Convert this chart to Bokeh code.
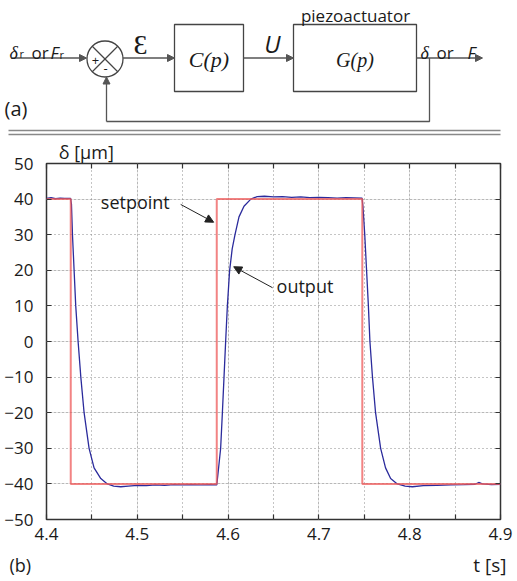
from bokeh.plotting import figure
from bokeh.models import Range1d, LinearAxis, FixedTicker, Label, Arrow, NormalHead, Grid
from bokeh.layouts import column
from bokeh.embed import file_html
from bokeh.resources import INLINE

# ---------------- data ----------------
setpoint_t = [4.40, 4.4267, 4.4267, 4.5875, 4.5875, 4.7478, 4.7478, 4.90]
setpoint_v = [40, 40, -40, -40, 40, 40, -40, -40]

output_t = [4.400, 4.405, 4.410, 4.415, 4.420, 4.4265, 4.4275, 4.4286, 4.4304, 4.4322,
            4.4348, 4.4378, 4.4414, 4.4469, 4.4524, 4.4598, 4.4670, 4.4740, 4.4818, 4.490,
            4.500, 4.510, 4.520, 4.530, 4.540, 4.550, 4.560, 4.570, 4.580, 4.5875,
            4.5885, 4.5918, 4.5937, 4.5955, 4.5973, 4.5992, 4.6017, 4.6045, 4.6076, 4.612,
            4.6175, 4.625, 4.632, 4.640, 4.650, 4.660, 4.670, 4.680, 4.690, 4.700,
            4.710, 4.720, 4.730, 4.7475, 4.7485, 4.7505, 4.7525, 4.7545, 4.7562, 4.759,
            4.7624, 4.768, 4.7734, 4.779, 4.7863, 4.795, 4.803, 4.815, 4.830, 4.845,
            4.860, 4.872, 4.876, 4.880, 4.890, 4.900]
output_v = [40.2, 40.4, 40.1, 40.3, 40.2, 40.2, 38.5, 30, 20, 10,
            0, -10, -20, -30, -35.5, -38.5, -40.0, -40.6, -40.8, -40.6,
            -40.4, -40.5, -40.3, -40.4, -40.2, -40.3, -40.2, -40.3, -40.2, -40.3,
            -38, -30, -20, -10, 0, 10, 20, 26, 30, 35,
            38, 40, 40.7, 40.8, 40.6, 40.7, 40.5, 40.6, 40.4, 40.5,
            40.4, 40.3, 40.4, 40.3, 38, 30, 20, 10, 0, -10,
            -20, -30, -35.5, -38.5, -40, -40.6, -40.8, -40.5, -40.4, -40.3,
            -40.2, -40.1, -39.6, -40.0, -40.2, -40.1]

x_tick_values = [4.4, 4.45, 4.5, 4.55, 4.6, 4.65, 4.7, 4.75, 4.8, 4.85, 4.9]
x_tick_labels = ["4.4", "", "4.5", "", "4.6", "", "4.7", "", "4.8", "", "4.9"]
y_tick_values = [-50, -40, -30, -20, -10, 0, 10, 20, 30, 40, 50]
y_tick_labels = ["\u221250", "\u221240", "\u221230", "\u221220", "\u221210", "0",
                 "10", "20", "30", "40", "50"]
y_axis_title = "\u03b4 [\u03bcm]"
x_axis_title = "t [s]"

SANS = "Open Sans"
SERIF = "Liberation Serif"
INK = "#1a1a1a"
LINE = "#555555"

W = 517
H1 = 136            # diagram: page y 0..136
H2 = 412            # plot:    page y 136..548
H3 = 581 - H1 - H2  # footer:  page y 548..581


def lab(fig, x, y, text, size, font=SANS, style="normal", align="left",
        baseline="middle", color=INK):
    fig.add_layout(Label(x=x, y=y, text=text, text_font=font,
                         text_font_size=f"{size}px", text_font_style=style,
                         text_align=align, text_baseline=baseline, text_color=color))


def arrow(fig, x0, y0, x1, y1, col=LINE, size=7, lw=1.3):
    fig.add_layout(Arrow(end=NormalHead(size=size, fill_color=col, line_color=col, line_width=1),
                         x_start=x0, y_start=y0, x_end=x1, y_end=y1,
                         line_color=col, line_width=lw))


def blank(h, top):
    f = figure(width=W, height=h, x_range=Range1d(0, W), y_range=Range1d(top + h, top),
               output_backend="svg", toolbar_location=None, min_border=0,
               min_border_left=0, min_border_right=0, min_border_top=0, min_border_bottom=0,
               x_axis_location=None, y_axis_location=None, frame_align=False)
    f.grid.visible = False
    f.outline_line_color = None
    return f


# ---------------- diagram (a) ----------------
d = blank(H1, 0)

yc = 57.5
cx, cy, r = 104.5, 58.5, 18
arrow(d, 11, yc, 86, yc)
d.circle(x=[cx], y=[cy], radius=r, fill_color=None, line_color="#444444", line_width=1.3)
k = r / 2 ** 0.5
d.segment(x0=[cx - k, cx - k], y0=[cy - k, cy + k], x1=[cx + k, cx + k], y1=[cy + k, cy - k],
          line_color="#444444", line_width=1.2)
lab(d, 95, 60, "+", 13, align="center")
lab(d, 105, 68, "-", 13, align="center")
arrow(d, 122.5, yc, 174, yc)
d.quad(left=[174, 293], right=[243, 416], top=[24, 24], bottom=[91, 91],
       fill_color=None, line_color="#444444", line_width=1.3)
arrow(d, 243, yc, 293, yc)
arrow(d, 416, yc, 482, yc)
d.line(x=[429, 429, 106], y=[yc, 121, 121], line_color=LINE, line_width=1.3)
arrow(d, 106, 121, 106, 76.5)
d.segment(x0=[8, 8], y0=[130, 134], x1=[500, 500], y1=[130, 134],
          line_color="#888888", line_width=1.3)

lab(d, 9, 52, "\u03b4", 18, font=SERIF, style="italic", baseline="alphabetic")
lab(d, 19, 53, "r", 11, baseline="alphabetic")
lab(d, 31, 52, "or", 17, baseline="alphabetic")
lab(d, 50, 52, "F", 17, style="italic", baseline="alphabetic")
lab(d, 59, 54, "r", 11, baseline="alphabetic")
lab(d, 140, 42, "\u0190", 28, align="center")
lab(d, 272, 43, "U", 24, style="italic", align="center")
lab(d, 208.5, 59, "C(p)", 22, font=SERIF, style="italic", align="center")
lab(d, 354.5, 59, "G(p)", 20, font=SERIF, style="italic", align="center")
lab(d, 355, 15, "piezoactuator", 17, align="center")
lab(d, 420, 52, "\u03b4", 18, font=SERIF, style="italic", baseline="alphabetic")
lab(d, 436, 52, "or", 17, baseline="alphabetic")
lab(d, 467, 52, "F", 17, style="italic", baseline="alphabetic")
lab(d, 4, 108, "(a)", 20)

# ---------------- plot (b) ----------------
p = figure(width=W, height=H2, x_range=Range1d(4.4, 4.9), y_range=Range1d(-50, 50),
           output_backend="svg", toolbar_location=None, frame_align=False,
           min_border_left=46, min_border_right=17, min_border_top=25, min_border_bottom=29,
           x_axis_location=None, y_axis_location=None)
p.outline_line_color = "#333333"
p.outline_line_width = 1.5

xt = FixedTicker(ticks=x_tick_values)
yt = FixedTicker(ticks=y_tick_values)
x_over = dict(zip(x_tick_values, x_tick_labels))
y_over = dict(zip(y_tick_values, y_tick_labels))

common = dict(axis_line_color=None, major_tick_in=5, major_tick_out=0,
              major_tick_line_color="#333333", major_tick_line_width=1.2,
              minor_tick_line_color=None)

xb = LinearAxis(ticker=xt, major_label_overrides=x_over, major_label_standoff=8,
                major_label_text_font=SANS, major_label_text_font_size="17px",
                major_label_text_color=INK, **common)
yl = LinearAxis(ticker=yt, major_label_overrides=y_over, major_label_standoff=13,
                major_label_text_font=SANS, major_label_text_font_size="17px",
                major_label_text_color=INK, **common)
xa = LinearAxis(ticker=xt, major_label_overrides={v: "" for v in x_tick_values},
                major_label_standoff=0, major_label_text_font_size="0px", **common)
yr = LinearAxis(ticker=yt, major_label_overrides={v: "" for v in y_tick_values},
                major_label_standoff=0, major_label_text_font_size="0px", **common)
# y-axis title written at the top-left, above the frame
ytitle_pos = 4.4438
yt_ax = LinearAxis(ticker=FixedTicker(ticks=[ytitle_pos]),
                   major_label_overrides={ytitle_pos: y_axis_title},
                   axis_line_color=None, major_tick_line_color=None, minor_tick_line_color=None,
                   major_tick_in=0, major_tick_out=0, major_label_standoff=0,
                   major_label_text_font=SANS, major_label_text_font_size="18px",
                   major_label_text_color=INK)
p.add_layout(xb, "below")
p.add_layout(yl, "left")
p.add_layout(xa, "above")
p.add_layout(yt_ax, "above")
p.add_layout(yr, "right")

for dim, tk in ((0, xt), (1, yt)):
    p.add_layout(Grid(dimension=dim, ticker=tk, grid_line_color="#8a8a8a",
                      grid_line_dash="1 3", grid_line_width=1))

p.line(output_t, output_v, line_color="#2b2b9c", line_width=1.3)
p.line(setpoint_t, setpoint_v, line_color="#ee5a5a", line_width=2, line_alpha=0.75)

lab(p, 4.4598, 39.1, "setpoint", 18)
lab(p, 4.6534, 15.7, "output", 18)
arrow(p, 4.5478, 38.5, 4.5841, 33.5, col="#222222", size=8, lw=1)
arrow(p, 4.649, 15.1, 4.6062, 21.0, col="#222222", size=8, lw=1)

# ---------------- footer ----------------
f = blank(H3, 548)
lab(f, 506, 564, x_axis_title, 19, align="right")
lab(f, 9, 564, "(b)", 18)

layout = column(d, p, f, spacing=0)
open("out.html", "w").write(file_html(layout, INLINE))
